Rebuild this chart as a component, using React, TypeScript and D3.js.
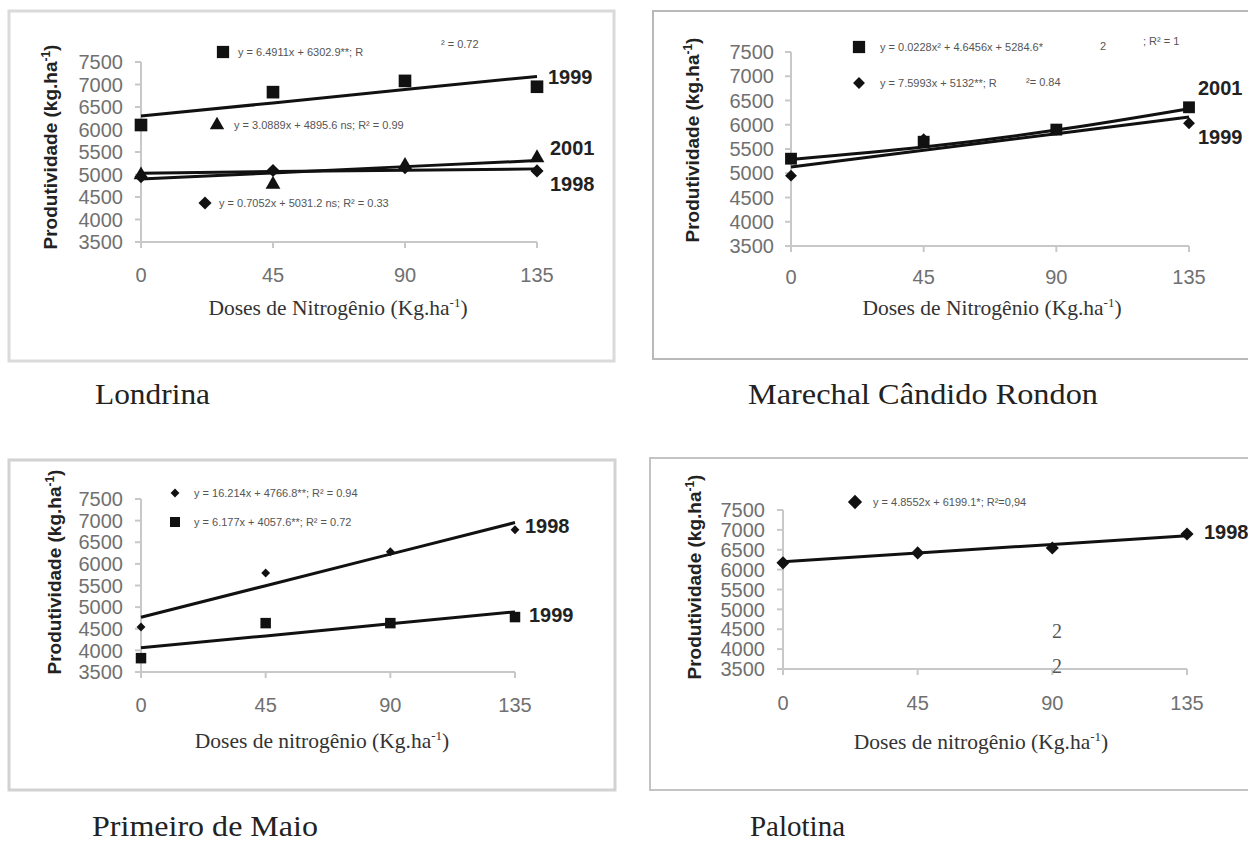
import React from 'react';
import * as d3 from 'd3';

// nitrogen doses (x) and productivity ticks (y)
const doses = [0, 45, 90, 135];
const yTicks = [3500, 4000, 4500, 5000, 5500, 6000, 6500, 7000, 7500];
const yTickLabelsPalotina = ['3500', '4000', '4500', '5000', '5500', '6000', '6500', '7000', '7500'];

// Londrina
const lon1999 = [6100, 6830, 7080, 6950];
const lon1999Fit = [6300, 6590, 6890, 7180];
const lon2001 = [4990, 4780, 5200, 5370];
const lon2001Fit = [4900, 5035, 5175, 5310];
const lon1998 = [4950, 5090, 5150, 5080];
const lon1998Fit = [5030, 5065, 5095, 5125];

// Marechal Cândido Rondon
const mcr2001 = [5300, 5650, 5900, 6360];
const mcr2001Fit = [5285, 5540, 5890, 6330];
const mcr1999 = [4950, 5700, 5900, 6030];
const mcr1999Fit = [5130, 5475, 5815, 6160];

// Primeiro de Maio
const pdm1998 = [4540, 5790, 6280, 6790];
const pdm1998Fit = [4765, 5495, 6225, 6955];
const pdm1999 = [3820, 4630, 4630, 4770];
const pdm1999Fit = [4060, 4335, 4615, 4890];

// Palotina
const pal1998 = [6170, 6420, 6545, 6895];
const pal1998Fit = [6200, 6420, 6635, 6855];

const SANS = 'Liberation Sans, Arial, sans-serif';
const SERIF = 'Liberation Serif, "Times New Roman", serif';
const diamond = (d3 as any).symbolDiamond2 || d3.symbolDiamond;

const panels = [
  {
    frame: { x: 9, y: 11, w: 605, h: 350, stroke: '#dadada', sw: 3 },
    x0: 141, x1: 537, yTop: 62, yBot: 242, tickRight: 123, xTickBase: 282,
    xTitle: 'Doses de Nitrogênio', xTitleX: 338, xTitleBase: 315,
    yTitleX: 50, yTitleY: 147,
    name: 'Londrina', nameX: 95, nameBase: 404, nameLen: 115,
    series: [
      { values: lon1999, fit: lon1999Fit, shape: d3.symbolSquare, size: 160, label: '1999', lx: 548, ly: 77 },
      { values: lon2001, fit: lon2001Fit, shape: d3.symbolTriangle, size: 95, label: '2001', lx: 550, ly: 148 },
      { values: lon1998, fit: lon1998Fit, shape: diamond, size: 110, label: '1998', lx: 550, ly: 184 },
    ],
    legend: [
      { shape: d3.symbolSquare, size: 150, mx: 223, my: 52, tx: 238, text: 'y = 6.4911x + 6302.9**;  R' },
      { shape: d3.symbolTriangle, size: 90, mx: 217, my: 125, tx: 234, text: 'y = 3.0889x + 4895.6 ns; R² = 0.99' },
      { shape: diamond, size: 110, mx: 205, my: 203, tx: 219, text: 'y = 0.7052x + 5031.2 ns; R² = 0.33' },
    ],
    extras: [{ x: 441, y: 48, text: '² = 0.72', size: 11, font: SANS }],
  },
  {
    frame: { x: 653, y: 11, w: 610, h: 348, stroke: '#b9b9b9', sw: 2 },
    x0: 791, x1: 1189, yTop: 52, yBot: 246, tickRight: 774, xTickBase: 284,
    xTitle: 'Doses de Nitrogênio', xTitleX: 992, xTitleBase: 315,
    yTitleX: 692, yTitleY: 140,
    name: 'Marechal Cândido Rondon', nameX: 748, nameBase: 404, nameLen: 350,
    series: [
      { values: mcr2001, fit: mcr2001Fit, shape: d3.symbolSquare, size: 140, label: '2001', lx: 1198, ly: 88, curve: true },
      { values: mcr1999, fit: mcr1999Fit, shape: diamond, size: 90, label: '1999', lx: 1198, ly: 137 },
    ],
    legend: [
      { shape: d3.symbolSquare, size: 150, mx: 859, my: 47, tx: 880, text: 'y = 0.0228x² + 4.6456x + 5284.6*' },
      { shape: diamond, size: 90, mx: 859, my: 83, tx: 880, text: 'y = 7.5993x + 5132**; R' },
    ],
    extras: [
      { x: 1100, y: 50, text: '2', size: 11, font: SANS },
      { x: 1143, y: 45, text: '; R² = 1', size: 11, font: SANS },
      { x: 1026, y: 86, text: '²= 0.84', size: 11, font: SANS },
    ],
  },
  {
    frame: { x: 9, y: 460, w: 606, h: 330, stroke: '#d2d2d2', sw: 3 },
    x0: 141, x1: 515, yTop: 499, yBot: 672, tickRight: 123, xTickBase: 712,
    xTitle: 'Doses de nitrogênio', xTitleX: 322, xTitleBase: 748,
    yTitleX: 54, yTitleY: 572,
    name: 'Primeiro de Maio', nameX: 92, nameBase: 836, nameLen: 226,
    series: [
      { values: pdm1998, fit: pdm1998Fit, shape: diamond, size: 50, label: '1998', lx: 525, ly: 526 },
      { values: pdm1999, fit: pdm1999Fit, shape: d3.symbolSquare, size: 110, label: '1999', lx: 529, ly: 615 },
    ],
    legend: [
      { shape: diamond, size: 50, mx: 175, my: 493, tx: 194, text: 'y = 16.214x + 4766.8**; R² = 0.94' },
      { shape: d3.symbolSquare, size: 100, mx: 175, my: 522, tx: 194, text: 'y = 6.177x + 4057.6**; R² = 0.72' },
    ],
    extras: [],
  },
  {
    frame: { x: 650, y: 458, w: 610, h: 332, stroke: '#c3c3c3', sw: 2 },
    x0: 783, x1: 1187, yTop: 510, yBot: 669, tickRight: 765, xTickBase: 710,
    xTitle: 'Doses de nitrogênio', xTitleX: 981, xTitleBase: 749,
    yTitleX: 694, yTitleY: 577,
    name: 'Palotina', nameX: 750, nameBase: 836, nameLen: 95,
    tickLabels: yTickLabelsPalotina,
    series: [
      { values: pal1998, fit: pal1998Fit, shape: diamond, size: 110, label: '1998', lx: 1204, ly: 532 },
    ],
    legend: [
      { shape: diamond, size: 130, mx: 855, my: 502, tx: 873, text: 'y = 4.8552x + 6199.1*; R²=0,94' },
    ],
    extras: [
      { x: 1052, y: 638, text: '2', size: 20, font: SERIF },
      { x: 1052, y: 673, text: '2', size: 20, font: SERIF },
    ],
  },
];

const Panel = ({ p }: { p: any }) => {
  const x = d3.scaleLinear().domain([0, 135]).range([p.x0, p.x1]);
  const y = d3.scaleLinear().domain([3500, 7500]).range([p.yBot, p.yTop]);
  const axisColor = '#c8c8c8';
  const tickColor = '#707070';

  return (
    <g>
      <rect x={p.frame.x} y={p.frame.y} width={p.frame.w} height={p.frame.h}
        fill="none" stroke={p.frame.stroke} strokeWidth={p.frame.sw} />

      {/* y axis */}
      <line x1={x(0)} x2={x(0)} y1={y(7500)} y2={y(3500)} stroke={axisColor} strokeWidth={2} />
      {yTicks.map((t, i) => (
        <g key={t}>
          <line x1={x(0) - 6} x2={x(0)} y1={y(t)} y2={y(t)} stroke={axisColor} strokeWidth={2} />
          <text x={p.tickRight} y={y(t)} dy="0.36em" textAnchor="end" fontFamily={SANS}
            fontSize={20} fill={tickColor}>{p.tickLabels ? p.tickLabels[i] : t}</text>
        </g>
      ))}

      {/* x axis */}
      <line x1={x(0)} x2={x(135)} y1={y(3500)} y2={y(3500)} stroke={axisColor} strokeWidth={2} />
      {doses.map(d => (
        <g key={d}>
          <line x1={x(d)} x2={x(d)} y1={y(3500)} y2={y(3500) + 6} stroke={axisColor} strokeWidth={2} />
          <text x={x(d)} y={p.xTickBase} textAnchor="middle" fontFamily={SANS} fontSize={20}
            fill={tickColor}>{d}</text>
        </g>
      ))}

      {/* fitted lines */}
      {p.series.map((s: any, i: number) => {
        const line = d3.line<number>()
          .x((_, j) => x(doses[j]))
          .y(v => y(v))
          .curve(s.curve ? d3.curveMonotoneX : d3.curveLinear);
        return <path key={'f' + i} d={line(s.fit) || ''} fill="none" stroke="#111" strokeWidth={3} />;
      })}

      {/* points */}
      {p.series.map((s: any, i: number) => (
        <g key={'m' + i}>
          {s.values.map((v: number, j: number) => (
            <path key={j} d={d3.symbol().type(s.shape).size(s.size)() || ''}
              transform={`translate(${x(doses[j])},${y(v)})`} fill="#111" />
          ))}
          <text x={s.lx} y={s.ly} dy="0.36em" fontFamily={SANS} fontWeight="bold" fontSize={20}
            fill="#222">{s.label}</text>
        </g>
      ))}

      {/* equations */}
      {p.legend.map((l: any, i: number) => (
        <g key={'l' + i}>
          <path d={d3.symbol().type(l.shape).size(l.size)() || ''}
            transform={`translate(${l.mx},${l.my})`} fill="#111" />
          <text x={l.tx} y={l.my} dy="0.36em" fontFamily={SANS} fontSize={11} fill="#555">{l.text}</text>
        </g>
      ))}
      {p.extras.map((e: any, i: number) => (
        <text key={'e' + i} x={e.x} y={e.y} fontFamily={e.font} fontSize={e.size} fill="#555">{e.text}</text>
      ))}

      {/* axis titles */}
      <text x={p.xTitleX} y={p.xTitleBase} textAnchor="middle" fontFamily={SERIF} fontSize={21.5} fill="#333">
        {p.xTitle} (Kg.ha<tspan dy={-8} fontSize={13}>-1</tspan><tspan dy={8}>)</tspan>
      </text>
      <text transform={`translate(${p.yTitleX},${p.yTitleY}) rotate(-90)`} textAnchor="middle" dy="0.36em"
        fontFamily={SANS} fontWeight="bold" fontSize={19} fill="#222">
        Produtividade (kg.ha<tspan dy={-7} fontSize={12}>-1</tspan><tspan dy={7}>)</tspan>
      </text>

      {/* location */}
      <text x={p.nameX} y={p.nameBase} fontFamily={SERIF} fontSize={29} fill="#222"
        textLength={p.nameLen} lengthAdjust="spacingAndGlyphs">{p.name}</text>
    </g>
  );
};

export default function App() {
  return (
    <svg width={1248} height={843} style={{ position: 'absolute', left: 0, top: 0, background: '#fff' }}>
      <rect width={1248} height={843} fill="#fff" />
      {panels.map((p, i) => <Panel key={i} p={p} />)}
    </svg>
  );
}
